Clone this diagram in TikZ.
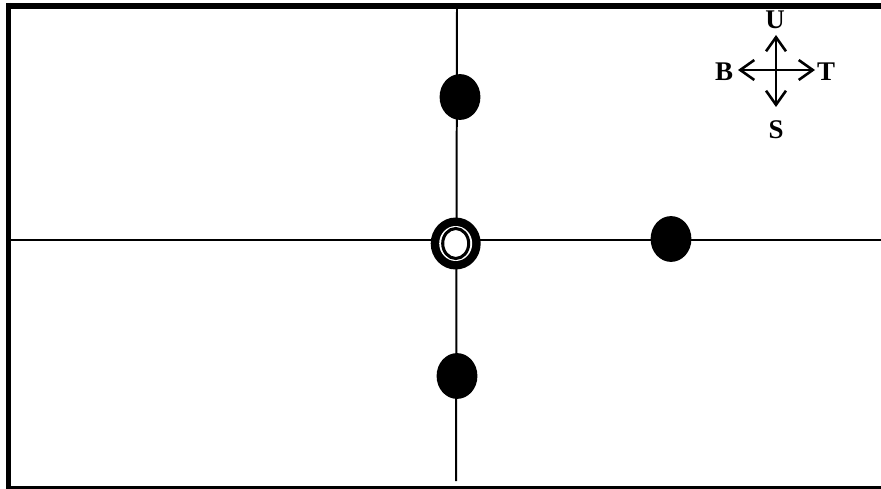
\documentclass[tikz,border=0pt]{standalone}
\usepackage{fontspec}
\setmainfont{Liberation Serif}
\usetikzlibrary{arrows.meta,shapes.geometric}

\newlength{\pxu}
\setlength{\pxu}{0.85pt}
\tikzset{
  dot/.style={draw=none,fill=black,ellipse,minimum width=41\pxu,minimum height=46\pxu,inner sep=0pt},
  lbl/.style={font=\fontsize{23}{26}\selectfont\bfseries,inner sep=0pt},
}

\begin{document}
\begin{tikzpicture}[x=0.03cm,y=-0.03cm,line width=1.7pt,>={Straight Barb[length=12pt,width=17pt,line width=2.2pt]}]
  \useasboundingbox (0,0) rectangle (881,489);
  % frame
  \draw[line width=4.6pt] (8.5,3) -- (8.5,489);
  \draw[line width=4.8pt] (6,5.8) -- (881,5.8);
  \draw[line width=2pt] (6,487.5) -- (881,487.5);
  % axes
  \coordinate (W) at (10,240);
  \coordinate (E) at (881,240);
  \coordinate (N) at (457,6);
  \coordinate (Sd) at (456,481);
  \draw (W) -- (E);
  \draw (N) -- (Sd);
  % points
  \node[dot] (pu) at (460,97) {};
  \node[dot] (pt) at (671,239) {};
  \node[dot] (ps) at (457,376) {};
  % center ring
  \coordinate (c) at (455.7,243.5);
  \fill[black] (c) ellipse [x radius=25, y radius=26];
  \fill[white] (c) ellipse [x radius=16.5, y radius=17.5];
  \draw[line width=2.6pt] (c) ellipse [x radius=13, y radius=15];
  % compass
  \coordinate (k) at (776,70);
  \coordinate (kU) at (776,35);
  \coordinate (kS) at (776,107);
  \coordinate (kB) at (738,70);
  \coordinate (kT) at (815,70);
  \draw[<->,line width=2.2pt] (kB) -- (kT);
  \draw[<->,line width=2.2pt] (kS) -- (kU);
  \node[lbl] (lU) at (775,20) {U};
  \node[lbl] (lB) at (724,72) {B};
  \node[lbl] (lT) at (826,72) {T};
  \node[lbl] (lS) at (776,130) {S};
\end{tikzpicture}
\end{document}
